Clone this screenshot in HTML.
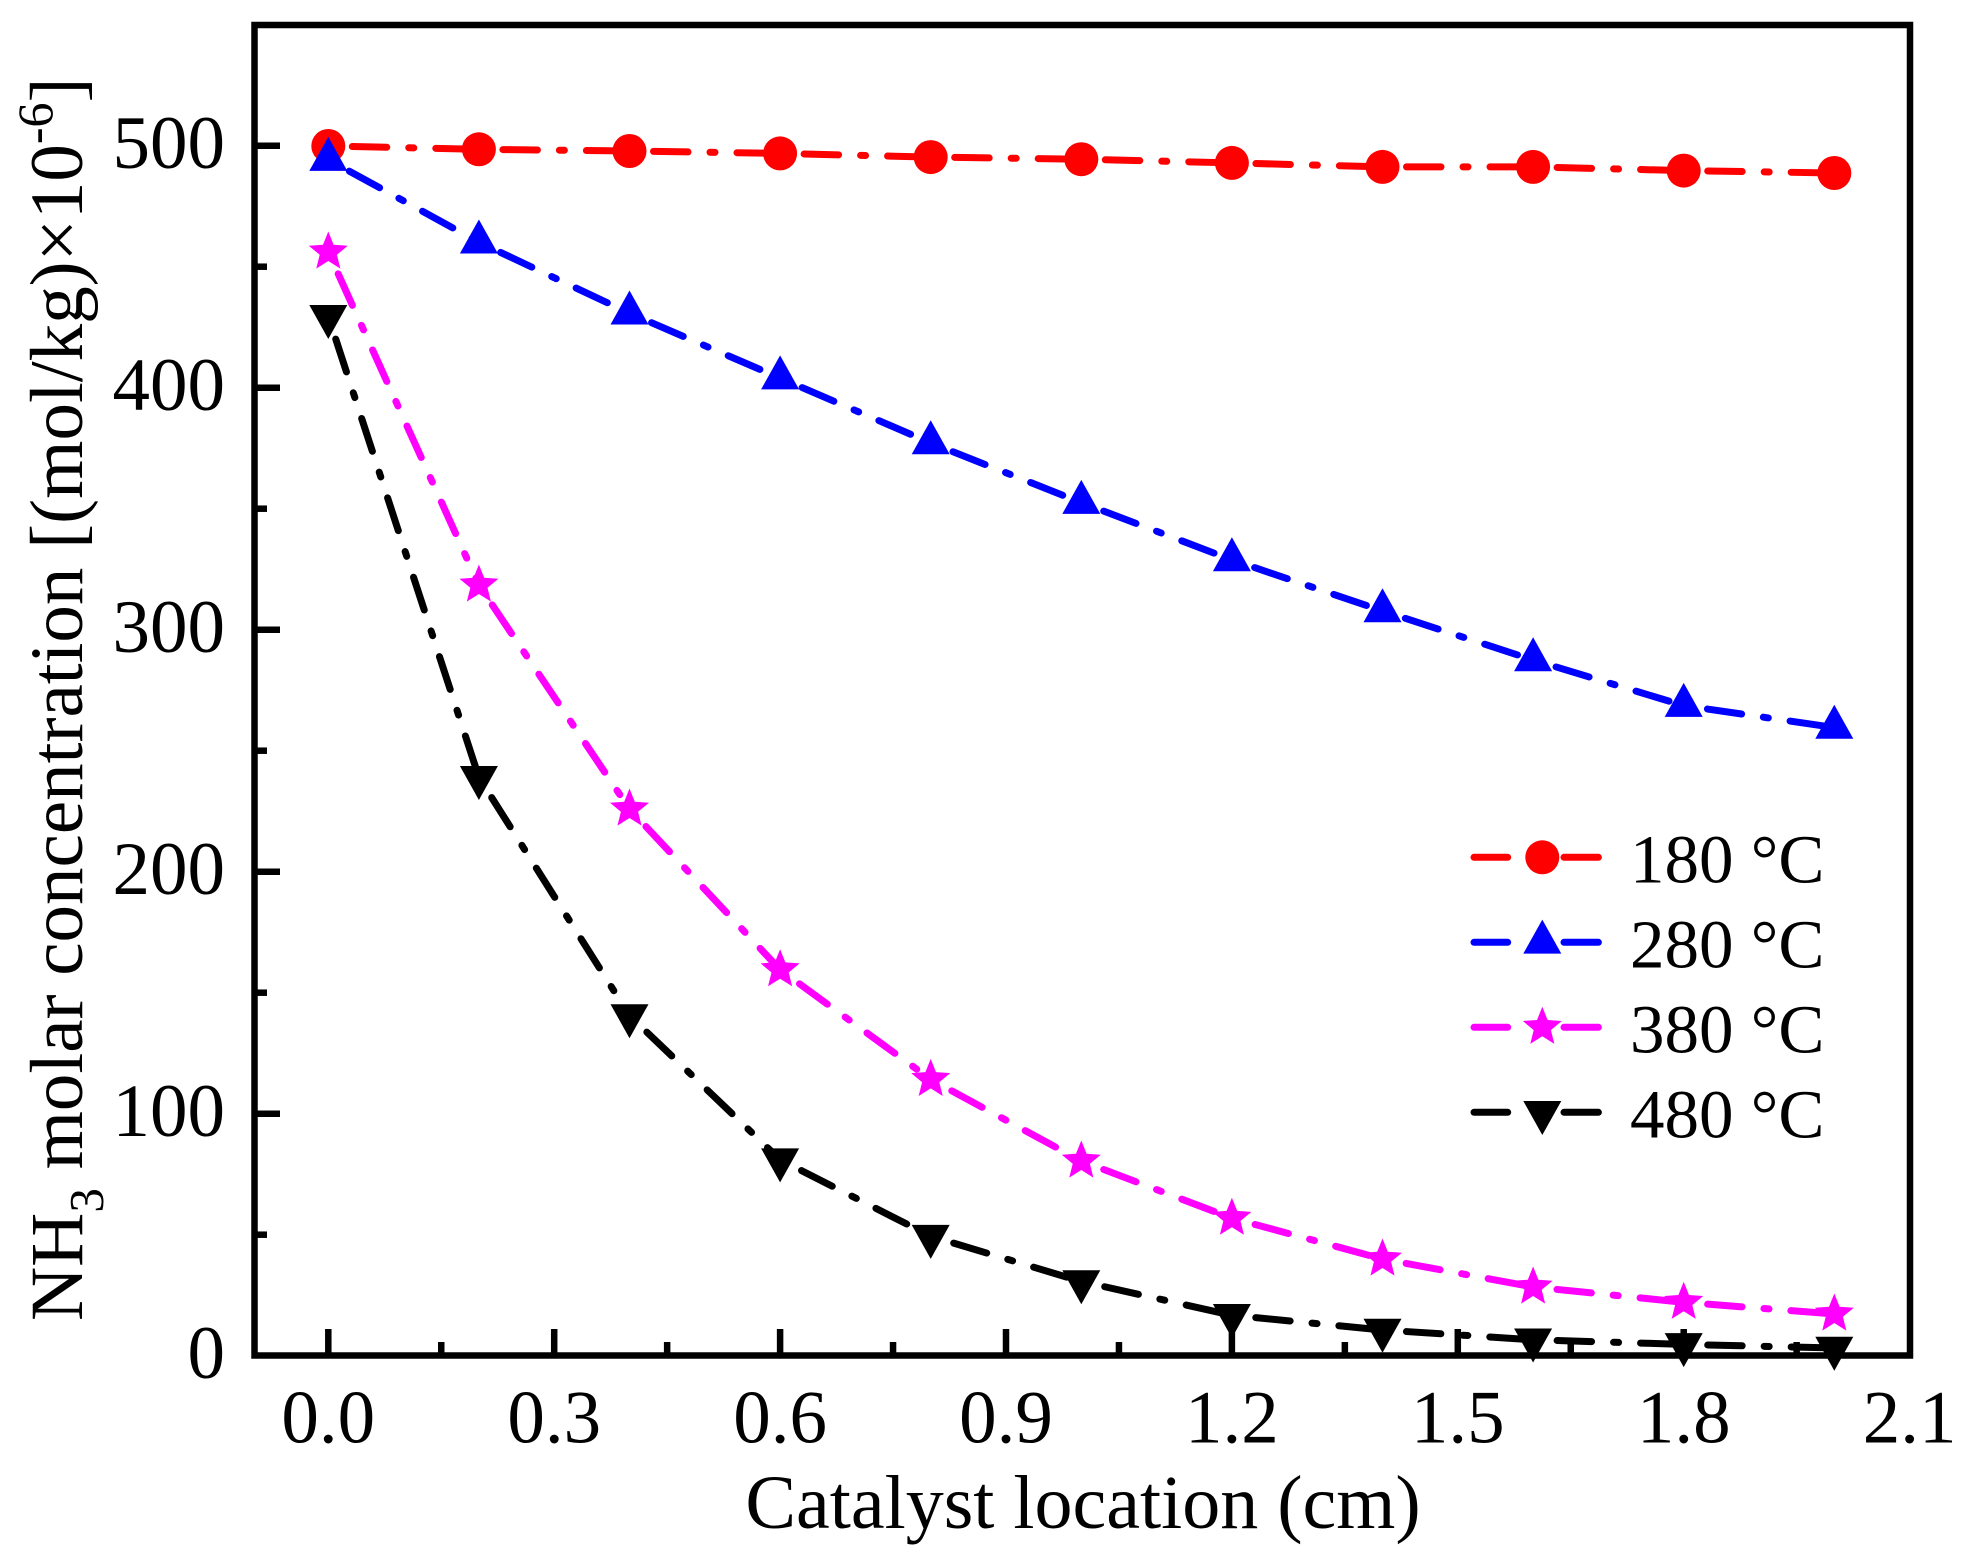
<!DOCTYPE html>
<html>
<head>
<meta charset="utf-8">
<style>
  html, body { margin: 0; padding: 0; background: #fff; }
  svg { display: block; }
  text { font-family: "Liberation Serif", "Times New Roman", serif; fill: #000; }
</style>
</head>
<body>
<svg width="1964" height="1556" viewBox="0 0 1964 1556" xmlns="http://www.w3.org/2000/svg">
  <defs>
    <path id="tu" d="M0,-22.7 L19,11.3 L-19,11.3 Z"/>
    <path id="td" d="M0,22.7 L19,-11.3 L-19,-11.3 Z"/>
    <path id="st" d="M0,-20.5 L5.3,-7.3 L19.5,-6.3 L8.6,2.8 L12.05,16.6 L0,9 L-12.05,16.6 L-8.6,2.8 L-19.5,-6.3 L-5.3,-7.3 Z"/>
  </defs>
  <rect x="0" y="0" width="1964" height="1556" fill="#fff"/>

  <!-- Frame -->
  <rect x="254.5" y="25" width="1655.5" height="1330.5" fill="none" stroke="#000" stroke-width="6.5"/>

  <!-- Y ticks -->
  <g stroke="#000" stroke-width="6.5">
    <line x1="254.5" y1="1113.7" x2="280" y2="1113.7"/>
    <line x1="254.5" y1="871.7" x2="280" y2="871.7"/>
    <line x1="254.5" y1="629.7" x2="280" y2="629.7"/>
    <line x1="254.5" y1="387.7" x2="280" y2="387.7"/>
    <line x1="254.5" y1="145.7" x2="280" y2="145.7"/>
    <line x1="254.5" y1="1234.7" x2="267" y2="1234.7"/>
    <line x1="254.5" y1="992.7" x2="267" y2="992.7"/>
    <line x1="254.5" y1="750.7" x2="267" y2="750.7"/>
    <line x1="254.5" y1="508.7" x2="267" y2="508.7"/>
    <line x1="254.5" y1="266.7" x2="267" y2="266.7"/>
  </g>
  <!-- X ticks -->
  <g stroke="#000" stroke-width="6.5">
    <line x1="328.3" y1="1355.5" x2="328.3" y2="1329"/>
    <line x1="554.2" y1="1355.5" x2="554.2" y2="1329"/>
    <line x1="780.1" y1="1355.5" x2="780.1" y2="1329"/>
    <line x1="1006" y1="1355.5" x2="1006" y2="1329"/>
    <line x1="1231.9" y1="1355.5" x2="1231.9" y2="1329"/>
    <line x1="1457.8" y1="1355.5" x2="1457.8" y2="1329"/>
    <line x1="1683.7" y1="1355.5" x2="1683.7" y2="1329"/>
    <line x1="441.25" y1="1355.5" x2="441.25" y2="1342"/>
    <line x1="667.15" y1="1355.5" x2="667.15" y2="1342"/>
    <line x1="893.05" y1="1355.5" x2="893.05" y2="1342"/>
    <line x1="1118.95" y1="1355.5" x2="1118.95" y2="1342"/>
    <line x1="1344.85" y1="1355.5" x2="1344.85" y2="1342"/>
    <line x1="1570.75" y1="1355.5" x2="1570.75" y2="1342"/>
    <line x1="1796.65" y1="1355.5" x2="1796.65" y2="1342"/>
  </g>

  <!-- Y tick labels -->
  <g font-size="75" text-anchor="end">
    <text x="225" y="1378.2">0</text>
    <text x="225" y="1136.2">100</text>
    <text x="225" y="894.2">200</text>
    <text x="225" y="652.2">300</text>
    <text x="225" y="410.2">400</text>
    <text x="225" y="168.2">500</text>
  </g>
  <!-- X tick labels -->
  <g font-size="75" text-anchor="middle">
    <text x="328.3" y="1442.5">0.0</text>
    <text x="554.2" y="1442.5">0.3</text>
    <text x="780.1" y="1442.5">0.6</text>
    <text x="1006" y="1442.5">0.9</text>
    <text x="1231.9" y="1442.5">1.2</text>
    <text x="1457.8" y="1442.5">1.5</text>
    <text x="1683.7" y="1442.5">1.8</text>
    <text x="1909.6" y="1442.5">2.1</text>
  </g>

  <!-- Axis titles -->
  <text x="1083" y="1528" font-size="76" text-anchor="middle">Catalyst location (cm)</text>
  <text transform="translate(82,1321) rotate(-90)" font-size="75">NH<tspan font-size="49" dy="21">3</tspan><tspan dy="-21"> molar concentration [(mol/kg)×10</tspan><tspan font-size="50" dy="-30">-6</tspan><tspan dy="30">]</tspan></text>

  <!-- Series: 180 C (red) -->
  <g stroke="#ff0000" stroke-width="7" stroke-linecap="round" fill="none" stroke-dasharray="0 24 34.5 22 5 22 34.5 22 5 22 34.5 22 5 22 34.5 22 5 22 34.5 22 5 22 34.5 22 5 22">
    <line x1="328.3" y1="146" x2="478.9" y2="149.3"/>
    <line x1="478.9" y1="149.3" x2="629.5" y2="151"/>
    <line x1="629.5" y1="151" x2="780.1" y2="153.4"/>
    <line x1="780.1" y1="153.4" x2="930.7" y2="157.1"/>
    <line x1="930.7" y1="157.1" x2="1081.3" y2="159.2"/>
    <line x1="1081.3" y1="159.2" x2="1231.9" y2="162.9"/>
    <line x1="1231.9" y1="162.9" x2="1382.5" y2="166.9"/>
    <line x1="1382.5" y1="166.9" x2="1533.1" y2="166.9"/>
    <line x1="1533.1" y1="166.9" x2="1683.7" y2="170.6"/>
    <line x1="1683.7" y1="170.6" x2="1834.3" y2="173"/>
  </g>
  <g fill="#ff0000">
    <circle cx="328.3" cy="146" r="17"/>
    <circle cx="478.9" cy="149.3" r="17"/>
    <circle cx="629.5" cy="151" r="17"/>
    <circle cx="780.1" cy="153.4" r="17"/>
    <circle cx="930.7" cy="157.1" r="17"/>
    <circle cx="1081.3" cy="159.2" r="17"/>
    <circle cx="1231.9" cy="162.9" r="17"/>
    <circle cx="1382.5" cy="166.9" r="17"/>
    <circle cx="1533.1" cy="166.9" r="17"/>
    <circle cx="1683.7" cy="170.6" r="17"/>
    <circle cx="1834.3" cy="173" r="17"/>
  </g>

  <!-- Series: 280 C (blue) -->
  <g stroke="#0000ff" stroke-width="7" stroke-linecap="round" fill="none" stroke-dasharray="0 24 34.5 22 5 22 34.5 22 5 22 34.5 22 5 22 34.5 22 5 22 34.5 22 5 22 34.5 22 5 22">
    <line x1="328.3" y1="159.6" x2="478.9" y2="242.2"/>
    <line x1="478.9" y1="242.2" x2="629.5" y2="313.2"/>
    <line x1="629.5" y1="313.2" x2="780.1" y2="378.1"/>
    <line x1="780.1" y1="378.1" x2="930.7" y2="442.9"/>
    <line x1="930.7" y1="442.9" x2="1081.3" y2="502.6"/>
    <line x1="1081.3" y1="502.6" x2="1231.9" y2="559.9"/>
    <line x1="1231.9" y1="559.9" x2="1382.5" y2="610.9"/>
    <line x1="1382.5" y1="610.9" x2="1533.1" y2="660"/>
    <line x1="1533.1" y1="660" x2="1683.7" y2="705.6"/>
    <line x1="1683.7" y1="705.6" x2="1834.3" y2="727.5"/>
  </g>
  <g fill="#0000ff">
    <use href="#tu" x="328.3" y="159.6"/>
    <use href="#tu" x="478.9" y="242.2"/>
    <use href="#tu" x="629.5" y="313.2"/>
    <use href="#tu" x="780.1" y="378.1"/>
    <use href="#tu" x="930.7" y="442.9"/>
    <use href="#tu" x="1081.3" y="502.6"/>
    <use href="#tu" x="1231.9" y="559.9"/>
    <use href="#tu" x="1382.5" y="610.9"/>
    <use href="#tu" x="1533.1" y="660"/>
    <use href="#tu" x="1683.7" y="705.6"/>
    <use href="#tu" x="1834.3" y="727.5"/>
  </g>

  <!-- Series: 380 C (magenta) -->
  <g stroke="#ff00ff" stroke-width="7" stroke-linecap="round" fill="none" stroke-dasharray="0 24 34.5 22 5 22 34.5 22 5 22 34.5 22 5 22 34.5 22 5 22 34.5 22 5 22 34.5 22 5 22">
    <line x1="328.3" y1="252" x2="478.9" y2="585"/>
    <line x1="478.9" y1="585" x2="629.5" y2="809"/>
    <line x1="629.5" y1="809" x2="780.1" y2="969.7"/>
    <line x1="780.1" y1="969.7" x2="930.7" y2="1079.4"/>
    <line x1="930.7" y1="1079.4" x2="1081.3" y2="1161"/>
    <line x1="1081.3" y1="1161" x2="1231.9" y2="1218.2"/>
    <line x1="1231.9" y1="1218.2" x2="1382.5" y2="1259"/>
    <line x1="1382.5" y1="1259" x2="1533.1" y2="1287"/>
    <line x1="1533.1" y1="1287" x2="1683.7" y2="1302.3"/>
    <line x1="1683.7" y1="1302.3" x2="1834.3" y2="1314"/>
  </g>
  <g fill="#ff00ff">
    <use href="#st" x="328.3" y="252"/>
    <use href="#st" x="478.9" y="585"/>
    <use href="#st" x="629.5" y="809"/>
    <use href="#st" x="780.1" y="969.7"/>
    <use href="#st" x="930.7" y="1079.4"/>
    <use href="#st" x="1081.3" y="1161"/>
    <use href="#st" x="1231.9" y="1218.2"/>
    <use href="#st" x="1382.5" y="1259"/>
    <use href="#st" x="1533.1" y="1287"/>
    <use href="#st" x="1683.7" y="1302.3"/>
    <use href="#st" x="1834.3" y="1314"/>
  </g>

  <!-- Series: 480 C (black) -->
  <g stroke="#000000" stroke-width="7" stroke-linecap="round" fill="none" stroke-dasharray="0 24 34.5 22 5 22 34.5 22 5 22 34.5 22 5 22 34.5 22 5 22 34.5 22 5 22 34.5 22 5 22">
    <line x1="328.3" y1="316.3" x2="478.9" y2="777.3"/>
    <line x1="478.9" y1="777.3" x2="629.5" y2="1015.5"/>
    <line x1="629.5" y1="1015.5" x2="780.1" y2="1159.7"/>
    <line x1="780.1" y1="1159.7" x2="930.7" y2="1236.2"/>
    <line x1="930.7" y1="1236.2" x2="1081.3" y2="1281.5"/>
    <line x1="1081.3" y1="1281.5" x2="1231.9" y2="1315.3"/>
    <line x1="1231.9" y1="1315.3" x2="1382.5" y2="1330"/>
    <line x1="1382.5" y1="1330" x2="1533.1" y2="1339.8"/>
    <line x1="1533.1" y1="1339.8" x2="1683.7" y2="1344.4"/>
    <line x1="1683.7" y1="1344.4" x2="1834.3" y2="1348"/>
  </g>
  <g fill="#000000">
    <use href="#td" x="328.3" y="316.3"/>
    <use href="#td" x="478.9" y="777.3"/>
    <use href="#td" x="629.5" y="1015.5"/>
    <use href="#td" x="780.1" y="1159.7"/>
    <use href="#td" x="930.7" y="1236.2"/>
    <use href="#td" x="1081.3" y="1281.5"/>
    <use href="#td" x="1231.9" y="1315.3"/>
    <use href="#td" x="1382.5" y="1330"/>
    <use href="#td" x="1533.1" y="1339.8"/>
    <use href="#td" x="1683.7" y="1344.4"/>
    <use href="#td" x="1834.3" y="1348"/>
  </g>

  <!-- Legend -->
  <g stroke-width="7" stroke-linecap="round">
    <line x1="1474" y1="857.3" x2="1507.7" y2="857.3" stroke="#ff0000"/>
    <line x1="1564" y1="857.3" x2="1598.4" y2="857.3" stroke="#ff0000"/>
    <line x1="1474" y1="942.3" x2="1507.7" y2="942.3" stroke="#0000ff"/>
    <line x1="1564" y1="942.3" x2="1598.4" y2="942.3" stroke="#0000ff"/>
    <line x1="1474" y1="1027.3" x2="1507.7" y2="1027.3" stroke="#ff00ff"/>
    <line x1="1564" y1="1027.3" x2="1598.4" y2="1027.3" stroke="#ff00ff"/>
    <line x1="1474" y1="1112.3" x2="1507.7" y2="1112.3" stroke="#000000"/>
    <line x1="1564" y1="1112.3" x2="1598.4" y2="1112.3" stroke="#000000"/>
  </g>
  <circle cx="1542.3" cy="857.3" r="17" fill="#ff0000"/>
  <use href="#tu" x="1542.3" y="942.3" fill="#0000ff"/>
  <use href="#st" x="1542.3" y="1027.3" fill="#ff00ff"/>
  <use href="#td" x="1542.3" y="1112.3" fill="#000000"/>
  <g font-size="69">
    <text x="1630" y="882.7">180 °C</text>
    <text x="1630" y="967.7">280 °C</text>
    <text x="1630" y="1052.7">380 °C</text>
    <text x="1630" y="1137.7">480 °C</text>
  </g>
</svg>
</body>
</html>
